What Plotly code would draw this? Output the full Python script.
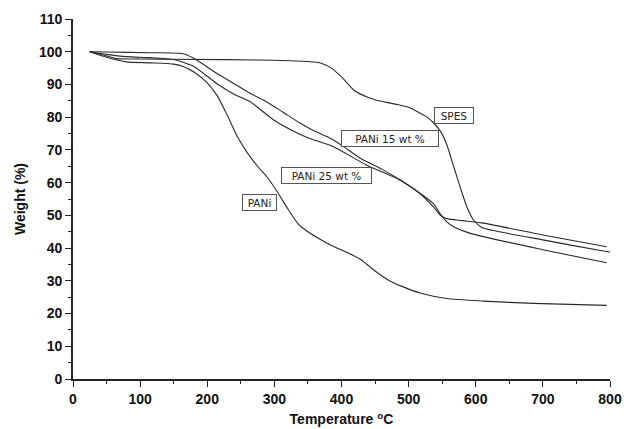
import plotly.graph_objects as go

# Temperature (°C) and weight (%)
spes_t = [25, 45, 65, 100, 150, 300, 350, 370, 385, 400, 420, 440, 452, 480, 500, 527, 537, 548, 557, 567, 577, 587, 597, 609, 630, 700, 790, 800]
spes_w = [100, 99, 97.9, 97.8, 97.7, 97.4, 97, 96.5, 95, 92.3, 88, 86, 85.2, 84, 83, 80.1, 78.3, 75.5, 71.5, 65, 58.5, 52.5, 48.5, 46.3, 45.2, 42.5, 39.1, 38.8]

p15_t = [25, 50, 115, 164, 180, 214, 240, 264, 290, 313, 338, 353, 370, 388, 403, 430, 462, 490, 515, 537, 547, 557, 580, 609, 700, 795]
p15_w = [100, 99.9, 99.7, 99.4, 98, 93.4, 90.2, 87.3, 84.5, 81.5, 78.2, 76.5, 74.8, 73, 71, 67.2, 63.9, 60.5, 57, 52.6, 50.1, 49, 48.4, 47.7, 44, 40.4]

p25_t = [25, 50, 80, 115, 150, 180, 214, 240, 264, 300, 338, 353, 388, 437, 487, 537, 547, 557, 567, 592, 700, 795]
p25_w = [100, 99.2, 98.5, 98.2, 97.6, 95.5, 90.3, 87, 84.7, 79, 74.8, 73.5, 71, 65.4, 60.8, 53.6, 50.5, 48, 46.5, 44.5, 39.5, 35.5]

pani_t = [25, 50, 80, 115, 150, 165, 180, 200, 215, 230, 245, 260, 275, 290, 305, 320, 335, 350, 370, 390, 410, 430, 450, 470, 490, 517, 557, 612, 686, 795]
pani_w = [100, 98.3, 96.9, 96.6, 96.2, 95.4, 93.8, 90.5, 86.5, 80.5, 74, 69, 65, 61.5, 57, 52, 47.5, 45, 42.5, 40.3, 38.5, 36.3, 33, 30.2, 28.3, 26.3, 24.6, 23.8, 23.1, 22.5]

x_ticks = [0, 100, 200, 300, 400, 500, 600, 700, 800]
y_ticks = [0, 10, 20, 30, 40, 50, 60, 70, 80, 90, 100, 110]

labels = ["SPES", "PANi 15 wt %", "PANi 25 wt %", "PANi"]
label_x = [568.0, 471.8, 377.7, 278.3]
label_y = [80.6, 73.6, 62.1, 53.9]
label_w = [38, 96, 89, 33]

fig = go.Figure()
for t, w, name in [(spes_t, spes_w, "SPES"), (p15_t, p15_w, "PANi 15 wt %"),
                   (p25_t, p25_w, "PANi 25 wt %"), (pani_t, pani_w, "PANi")]:
    fig.add_trace(go.Scatter(x=t, y=w, mode="lines", name=name,
                             line=dict(color="#2a2a2a", width=1.1, shape="spline", smoothing=0.6)))

for txt, lx, ly, lw in zip(labels, label_x, label_y, label_w):
    fig.add_annotation(x=lx, y=ly, text=txt, showarrow=False, width=lw, height=15,
                       font=dict(family="DejaVu Sans", size=10.5, color="#222"),
                       bordercolor="#555", borderwidth=1, borderpad=0, bgcolor="white")

tick_font = dict(family="Liberation Sans, Arial", size=14, color="#111")
title_font = dict(family="Liberation Sans, Arial", size=14, color="#111")
fig.update_layout(
    width=624, height=429,
    margin=dict(l=73, r=14, t=19, b=50),
    paper_bgcolor="white", plot_bgcolor="white",
    showlegend=False,
    xaxis=dict(range=[0, 800], tickvals=x_ticks, ticktext=[f"<b>{v}</b>" for v in x_ticks],
               automargin=False,
               showgrid=False, zeroline=False, showline=True, linecolor="#222", linewidth=1.6,
               ticks="outside", ticklen=6, tickwidth=1.3, tickcolor="#222",
               minor=dict(dtick=50, tick0=0, ticks="outside", ticklen=3, tickcolor="#222", showgrid=False),
               tickfont=tick_font,
               title=dict(text="<b>Temperature <sup>o</sup>C</b>", font=title_font, standoff=9)),
    yaxis=dict(range=[0, 110], tickvals=y_ticks, ticktext=[f"<b>{v}</b>" for v in y_ticks],
               automargin=False,
               showgrid=False, zeroline=False, showline=True, linecolor="#222", linewidth=1.6,
               ticks="outside", ticklen=6, tickwidth=1.3, tickcolor="#222",
               minor=dict(dtick=5, tick0=0, ticks="outside", ticklen=3, tickcolor="#222", showgrid=False),
               tickfont=tick_font,
               title=dict(text="<b>Weight (%)</b>", font=title_font, standoff=10)),
)

fig.write_html("out.html")
